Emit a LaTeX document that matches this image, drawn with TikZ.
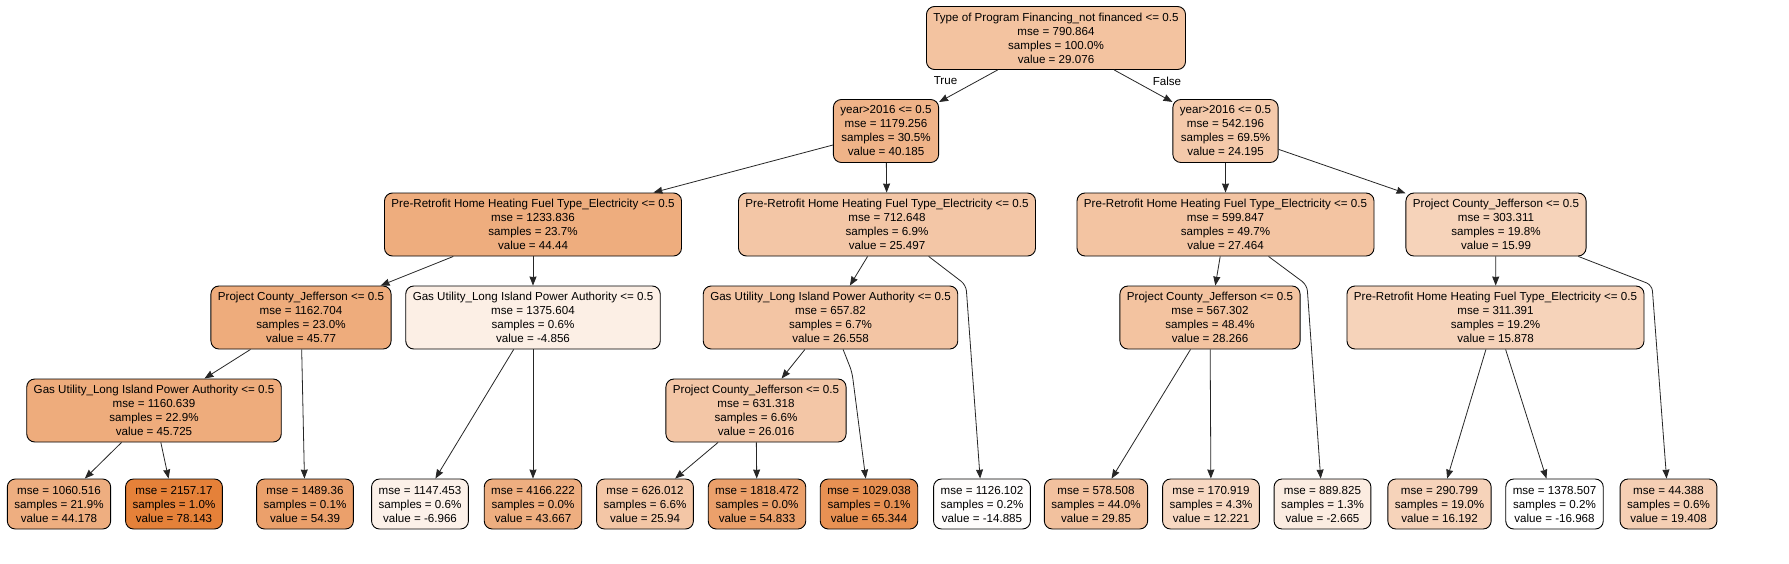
\documentclass[tikz,border=0pt]{standalone}
\usepackage{fontspec}
\setmainfont{Liberation Sans}
\usetikzlibrary{arrows.meta}
\definecolor{tcol}{RGB}{229,129,57}

\begin{document}
\begin{tikzpicture}[x=1pt, y=-1pt, font=\fontsize{11.6pt}{14pt}\selectfont,
    split/.style={draw, line width=0.9pt, rounded corners=8pt, align=center, inner xsep=7pt, inner ysep=0pt, minimum height=63pt, fill=tcol!#1!white},
    leaf/.style={draw, line width=0.9pt, rounded corners=8pt, align=center, inner xsep=7pt, inner ysep=0pt, minimum height=50pt, fill=tcol!#1!white},
    edge/.style={->, >={Stealth[length=9pt, width=7pt, inset=0.5pt]}, line width=0.8pt, black!85}]
      \path[use as bounding box, fill=white] (0,0) rectangle (1789,563);
      %
      \node[split=48] (root) at (1056,38) {Type of Program Financing\_not financed <= 0.5\\mse = 790.864\\samples = 100.0\%\\value = 29.076};
      \node[split=60] (a0) at (886,131) {year>2016 <= 0.5\\mse = 1179.256\\samples = 30.5\%\\value = 40.185};
      \node[split=43] (a1) at (1225.5,131) {year>2016 <= 0.5\\mse = 542.196\\samples = 69.5\%\\value = 24.195};
      \node[split=65] (b0) at (533,224.5) {Pre-Retrofit Home Heating Fuel Type\_Electricity <= 0.5\\mse = 1233.836\\samples = 23.7\%\\value = 44.44};
      \node[split=45] (b1) at (887,224.5) {Pre-Retrofit Home Heating Fuel Type\_Electricity <= 0.5\\mse = 712.648\\samples = 6.9\%\\value = 25.497};
      \node[split=47] (b2) at (1225.5,224.5) {Pre-Retrofit Home Heating Fuel Type\_Electricity <= 0.5\\mse = 599.847\\samples = 49.7\%\\value = 27.464};
      \node[split=35] (b3) at (1496,224.5) {Project County\_Jefferson <= 0.5\\mse = 303.311\\samples = 19.8\%\\value = 15.99};
      \node[split=66] (c0) at (301,317.5) {Project County\_Jefferson <= 0.5\\mse = 1162.704\\samples = 23.0\%\\value = 45.77};
      \node[split=13] (c1) at (533,317.5) {Gas Utility\_Long Island Power Authority <= 0.5\\mse = 1375.604\\samples = 0.6\%\\value = -4.856};
      \node[split=46] (c2) at (830.5,317.5) {Gas Utility\_Long Island Power Authority <= 0.5\\mse = 657.82\\samples = 6.7\%\\value = 26.558};
      \node[split=48] (c3) at (1210,317.5) {Project County\_Jefferson <= 0.5\\mse = 567.302\\samples = 48.4\%\\value = 28.266};
      \node[split=35] (c4) at (1495.5,317.5) {Pre-Retrofit Home Heating Fuel Type\_Electricity <= 0.5\\mse = 311.391\\samples = 19.2\%\\value = 15.878};
      \node[split=66] (d0) at (154,410.5) {Gas Utility\_Long Island Power Authority <= 0.5\\mse = 1160.639\\samples = 22.9\%\\value = 45.725};
      \node[split=45] (d1) at (756,410.5) {Project County\_Jefferson <= 0.5\\mse = 631.318\\samples = 6.6\%\\value = 26.016};
      %
      \foreach \i/\x/\m/\s/\v/\pc in {0/59/1060.516/21.9/44.178/64, 1/174/2157.17/1.0/78.143/100, 2/305/1489.36/0.1/54.39/75,
          3/420/1147.453/0.6/-6.966/11, 4/533/4166.222/0.0/43.667/64, 5/645/626.012/6.6/25.94/45,
          6/757/1818.472/0.0/54.833/75, 7/869/1029.038/0.1/65.344/87, 8/982/1126.102/0.2/-14.885/2,
          9/1096/578.508/44.0/29.85/49, 10/1211/170.919/4.3/12.221/31, 11/1322.5/889.825/1.3/-2.665/15,
          12/1439.5/290.799/19.0/16.192/35, 13/1554.5/1378.507/0.2/-16.968/0, 14/1668.5/44.388/0.6/19.408/38}
        \node[leaf=\pc] (lf\i) at (\x,504) {mse = \m\\samples = \s\%\\value = \v};
      %
      \coordinate (k0) at (966,285);
      \coordinate (k1) at (1307,285);
      \coordinate (k2) at (1652,285);
      \coordinate (k3) at (852,372);
      %
      \draw[edge] (root) -- (a0);
      \draw[edge] (root) -- (a1);
      \node (lbT) at (945.5,81) {True};
      \node (lbF) at (1167,81) {False};
      %
      \draw[edge] (a0) -- (b0);
      \draw[edge] (a0) -- (b1);
      \draw[edge] (a1) -- (b2);
      \draw[edge] (a1) -- (b3);
      %
      \draw[edge] (b0) -- (c0);
      \draw[edge] (b0) -- (c1);
      \draw[edge] (b1) -- (c2);
      \draw[edge, rounded corners=6pt] (b1) -- (k0) -- (lf8);
      \draw[edge] (b2) -- (c3);
      \draw[edge, rounded corners=6pt] (b2) -- (k1) -- (lf11);
      \draw[edge] (b3) -- (c4);
      \draw[edge, rounded corners=6pt] (b3) -- (k2) -- (lf14);
      %
      \draw[edge] (c0) -- (d0);
      \draw[edge] (c0) -- (lf2);
      \draw[edge] (c1) -- (lf3);
      \draw[edge] (c1) -- (lf4);
      \draw[edge] (c2) -- (d1);
      \draw[edge, rounded corners=6pt] (c2) -- (k3) -- (lf7);
      \draw[edge] (c3) -- (lf9);
      \draw[edge] (c3) -- (lf10);
      \draw[edge] (c4) -- (lf12);
      \draw[edge] (c4) -- (lf13);
      %
      \draw[edge] (d0) -- (lf0);
      \draw[edge] (d0) -- (lf1);
      \draw[edge] (d1) -- (lf5);
      \draw[edge] (d1) -- (lf6);
\end{tikzpicture}
\end{document}
